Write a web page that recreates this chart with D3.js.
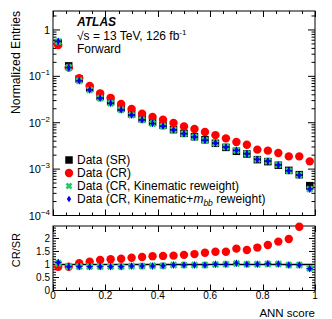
<!DOCTYPE html>
<html><head><meta charset="utf-8">
<script src="https://cdn.jsdelivr.net/npm/d3@7"></script>
<style>body{margin:0;background:#fff}svg{display:block}text{font-family:"Liberation Sans",Arial,sans-serif}</style>
</head><body><div id="c"></div>
<script>
const binCenters=[0.02,0.06,0.10,0.14,0.18,0.22,0.26,0.30,0.34,0.38,0.42,0.46,0.50,0.54,0.58,0.62,0.66,0.70,0.74,0.78,0.82,0.86,0.90,0.94,0.98];
const dataSR=[0.533,0.168,0.087,0.0557,0.0368,0.0287,0.0207,0.0156,0.0122,0.0102,0.0088,0.0071,0.0059,0.0050,0.0043,0.0036,0.00294,0.00242,0.00212,0.0016,0.00145,0.00121,0.00094,0.00076,0.00044];
const dataCR=[0.475,0.154,0.091,0.062,0.043,0.0344,0.0253,0.0197,0.0157,0.0133,0.0116,0.0099,0.0083,0.0073,0.0063,0.0054,0.0046,0.00384,0.00336,0.00263,0.0025,0.00223,0.00188,0.00188,0.00147];
const dataKin=[0.56,0.155,0.080,0.051,0.0338,0.0264,0.019,0.0146,0.0115,0.0096,0.0084,0.0070,0.0058,0.0049,0.0042,0.0036,0.0030,0.00252,0.00215,0.00162,0.00148,0.00124,0.00092,0.00075,0.00037];
const dataKinMbb=[0.57,0.154,0.080,0.051,0.0337,0.0263,0.0189,0.0147,0.0115,0.0096,0.0084,0.0070,0.0058,0.0049,0.0042,0.00364,0.00297,0.00254,0.00214,0.00162,0.00149,0.00123,0.00092,0.00074,0.00037];
const ratioCR=[0.91,0.915,1.05,1.11,1.17,1.20,1.22,1.26,1.29,1.32,1.33,1.34,1.37,1.40,1.45,1.49,1.49,1.61,1.56,1.65,1.75,1.88,1.98,2.45,3.35];
const ratioKin=[1.05,0.92,0.92,0.92,0.92,0.92,0.92,0.94,0.94,0.95,0.95,0.98,0.98,0.98,0.98,1.0,1.01,1.04,1.01,1.01,1.02,1.02,0.98,0.98,0.85];
const ratioKinMbb=[1.08,0.915,0.915,0.915,0.915,0.915,0.915,0.94,0.94,0.94,0.95,0.98,0.98,0.98,0.98,1.01,1.01,1.05,1.01,1.01,1.03,1.02,0.98,0.98,0.84];
const xTicks=[0,0.2,0.4,0.6,0.8,1];
const xTickLabels=["0","0.2","0.4","0.6","0.8","1"];
const yDecades=[1,0.1,0.01,0.001,0.0001];
const yDecadeExp=[0,-1,-2,-3,-4];
const rTicks=[0,0.5,1,1.5,2];
const rTickLabels=["0","0.5","1","1.5","2"];
const legendLabels=["Data (SR)","Data (CR)","Data (CR, Kinematic reweight)","Data (CR, Kinematic+"];

const W=332,H=319;
const L=53,R=315,T1=11,B1=215.5,T2=226,B2=290.5;
const svg=d3.select("#c").append("svg").attr("width",W).attr("height",H);
const x=d3.scaleLinear().domain([0,1]).range([L,R]);
const y=d3.scaleLog().domain([1e-4,2.56]).range([B1,T1]);
const yr=d3.scaleLinear().domain([0,2.48]).range([B2,T2]);

function ticksX(top,bottom){
  const minor=d3.range(0,1.0001,0.05);
  const g=svg.append("g").attr("stroke","#000").attr("stroke-width",1);
  minor.forEach(v=>{
    const major=xTicks.some(t=>Math.abs(t-v)<1e-6);
    const len=major?6:3;
    const xx=Math.round(x(v))+0.5;
    g.append("line").attr("x1",xx).attr("x2",xx).attr("y1",bottom).attr("y2",bottom-len);
    g.append("line").attr("x1",xx).attr("x2",xx).attr("y1",top).attr("y2",top+len);
  });
}
ticksX(T1,B1);ticksX(T2,B2);

const gy=svg.append("g").attr("stroke","#000").attr("stroke-width",1);
for(let e=-4;e<=0;e++){
  for(let m=1;m<=9;m++){
    const v=m*Math.pow(10,e);
    if(v>2.56)continue;
    const yy=y(v);
    const len=m===1?7:3.5;
    gy.append("line").attr("x1",L).attr("x2",L+len).attr("y1",yy).attr("y2",yy);
    gy.append("line").attr("x1",R).attr("x2",R-len).attr("y1",yy).attr("y2",yy);
  }
}
d3.range(0,2.4001,0.1).forEach(v=>{
  const major=Math.abs(v*2-Math.round(v*2))<1e-6;
  const len=major?6:3;
  const yy=yr(v);
  gy.append("line").attr("x1",L).attr("x2",L+len).attr("y1",yy).attr("y2",yy);
  gy.append("line").attr("x1",R).attr("x2",R-len).attr("y1",yy).attr("y2",yy);
});

svg.append("rect").attr("x",L).attr("y",T1).attr("width",R-L).attr("height",B1-T1).attr("fill","none").attr("stroke","#000");
svg.append("rect").attr("x",L).attr("y",T2).attr("width",R-L).attr("height",B2-T2).attr("fill","none").attr("stroke","#000");

yDecades.forEach((v,i)=>{
  const t=svg.append("text").attr("y",y(v)+4).attr("font-size",11).attr("text-anchor","end").attr("x",50);
  if(yDecadeExp[i]===0){t.text("1");}
  else{
    t.append("tspan").text("10");
    t.append("tspan").attr("font-size",8).attr("dy",-5).text(String(yDecadeExp[i]).replace("-","\u2212"));
  }
});
rTicks.forEach((v,i)=>{
  svg.append("text").attr("x",50).attr("y",yr(v)+3.5).attr("font-size",10).attr("text-anchor","end").text(rTickLabels[i]);
});
xTicks.forEach((v,i)=>{
  svg.append("text").attr("x",x(v)).attr("y",299).attr("font-size",10).attr("text-anchor","middle").text(xTickLabels[i]);
});
svg.append("text").attr("transform","translate(20,11) rotate(-90)").attr("text-anchor","end").attr("font-size",12.2).text("Normalized Entries");
svg.append("text").attr("transform","translate(20,233) rotate(-90)").attr("text-anchor","end").attr("font-size",11).text("CR/SR");
svg.append("text").attr("x",315).attr("y",317).attr("text-anchor","end").attr("font-size",11.5).text("ANN score");

svg.append("text").attr("x",77).attr("y",26).attr("font-size",12).attr("font-weight","bold").attr("font-style","italic").text("ATLAS");
const ecm=svg.append("text").attr("x",77).attr("y",39.5).attr("font-size",12);
ecm.append("tspan").text("\u221As = 13 TeV, 126 fb");
ecm.append("tspan").attr("font-size",8).attr("dy",-5).text("-1");
svg.append("text").attr("x",77).attr("y",53).attr("font-size",12).text("Forward");

function sq(g,cx,cy,s){g.append("rect").attr("x",cx-s/2).attr("y",cy-s/2).attr("width",s).attr("height",s).attr("fill","#000");}
function circ(g,cx,cy,r){g.append("circle").attr("cx",cx).attr("cy",cy).attr("r",r).attr("fill","#ff0000");}
function xmark(g,cx,cy,s){
  g.append("path").attr("d",`M${cx-s},${cy-s}L${cx+s},${cy+s}M${cx-s},${cy+s}L${cx+s},${cy-s}`).attr("stroke","#22cc66").attr("stroke-width",2.6).attr("fill","none");
}
function diam(g,cx,cy,w,h){
  g.append("path").attr("d",`M${cx},${cy-h}L${cx+w},${cy}L${cx},${cy+h}L${cx-w},${cy}Z`).attr("fill","#0000ee");
}
function blueMark(g,cx,cy){
  diam(g,cx,cy,2.3,3.3);
  g.append("path").attr("d",`M${cx-3.5},${cy}H${cx+3.5}M${cx},${cy-3.5}V${cy+3.5}`).attr("stroke","#0000ee").attr("stroke-width",1);
}
function drawSet(g,yScale,vals,fn){
  const [lo,hi]=yScale.domain();
  vals.forEach((v,i)=>{ if(v>=lo && v<=hi) fn(g,x(binCenters[i]),yScale(v)); });
}
const gu=svg.append("g");
drawSet(gu,y,dataSR,(g,cx,cy)=>sq(g,cx,cy,7.5));
drawSet(gu,y,dataCR,(g,cx,cy)=>circ(g,cx,cy,4.2));
drawSet(gu,y,dataKin,(g,cx,cy)=>xmark(g,cx,cy,2.8));
drawSet(gu,y,dataKinMbb,blueMark);

svg.append("line").attr("x1",L).attr("x2",R).attr("y1",yr(1)).attr("y2",yr(1)).attr("stroke","#000").attr("stroke-width",1.5);
const gr=svg.append("g");
drawSet(gr,yr,ratioCR,(g,cx,cy)=>circ(g,cx,cy,4.2));
drawSet(gr,yr,ratioKin,(g,cx,cy)=>xmark(g,cx,cy,2.8));
drawSet(gr,yr,ratioKinMbb,blueMark);

const lg=svg.append("g");
const ly=[160,173,186,199];
sq(lg,69,ly[0],7.5);
circ(lg,69,ly[1],4.2);
xmark(lg,69,ly[2],2.5);
diam(lg,69,ly[3],2.2,3.3);
legendLabels.forEach((t,i)=>{
  const tx=lg.append("text").attr("x",77).attr("y",ly[i]+4.3).attr("font-size",12).text(t);
  if(i===3){
    tx.append("tspan").attr("font-style","italic").text("m");
    tx.append("tspan").attr("font-style","italic").attr("font-size",8.5).attr("dy",3).text("bb");
    tx.append("tspan").attr("dy",-3).text(" reweight)");
  }
});
</script></body></html>
